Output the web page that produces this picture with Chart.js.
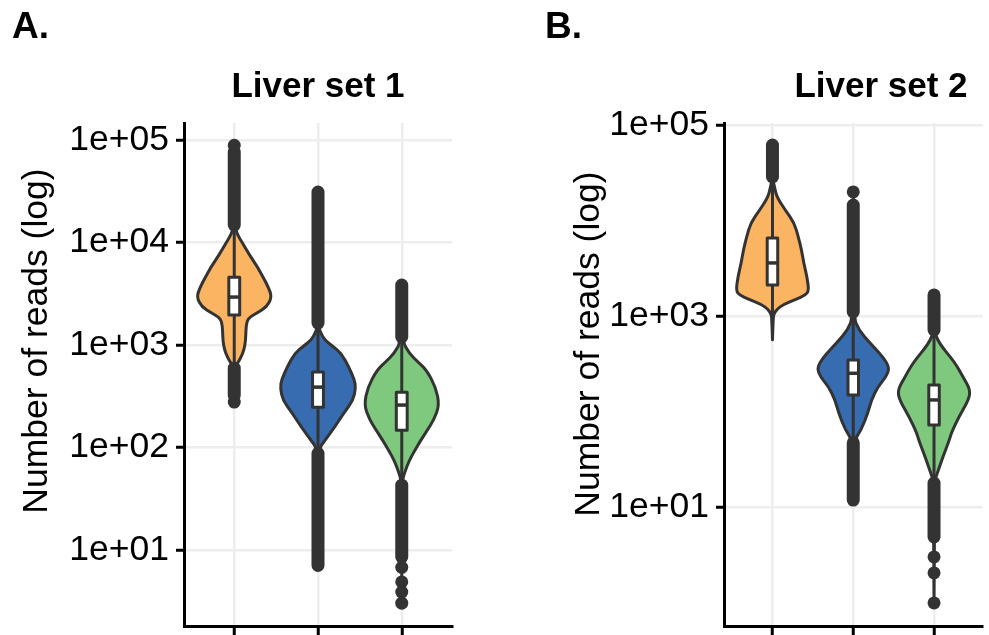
<!DOCTYPE html>
<html>
<head>
<meta charset="utf-8">
<script src="https://cdn.jsdelivr.net/npm/chart.js@4.4.1/dist/chart.umd.min.js"></script>
<style>
  html, body { margin: 0; padding: 0; background: #ffffff; }
  #wrap { position: relative; width: 989px; height: 635px; overflow: hidden; }
  canvas { position: absolute; top: 0; }
</style>
</head>
<body>
<div id="wrap">
  <canvas id="liver1" width="470" height="635" style="left:0px"></canvas>
  <canvas id="liver2" width="519" height="635" style="left:470px"></canvas>
</div>
<script>
// x labels are cropped off in the figure, so the groups only carry a colour
const groups = ['group 1', 'group 2', 'group 3'];
const groupColors = ['#fbb462', '#386cb0', '#7fc97f'];

const yTicks1 = [1e1, 1e2, 1e3, 1e4, 1e5];
const yTickLabels1 = ['1e+01', '1e+02', '1e+03', '1e+04', '1e+05'];
const yTicks2 = [1e1, 1e3, 1e5];
const yTickLabels2 = ['1e+01', '1e+03', '1e+05'];

// violin outlines: [reads, relative half width], read from top to bottom
const violins1 = [
  [[89000, 0], [14800, 0], [12000, 0.08], [9900, 0.22], [7800, 0.38], [5750, 0.62], [4500, 0.78],
   [3700, 0.9], [2950, 1.0], [2350, 0.86], [2050, 0.6], [1880, 0.42], [1700, 0.33], [1400, 0.31],
   [1100, 0.3], [900, 0.26], [760, 0.18], [660, 0.08], [600, 0], [278, 0]],
  [[31100, 0], [1570, 0], [1320, 0.07], [1120, 0.18], [980, 0.38], [830, 0.62], [610, 0.82],
   [457, 0.97], [380, 1.0], [288, 0.93], [219, 0.69], [158, 0.44], [117, 0.18], [95, 0], [7.1, 0]],
  [[3850, 0], [1120, 0], [830, 0.2], [690, 0.42], [570, 0.66], [389, 0.9], [260, 1.0], [186, 0.85],
   [148, 0.68], [117, 0.5], [93, 0.34], [75, 0.2], [59, 0.09], [46, 0], [3.04, 0]]
];
const violins2 = [
  [[61700, 0], [27900, 0], [22000, 0.06], [17600, 0.12], [12900, 0.35], [9400, 0.6], [6760, 0.71],
   [4900, 0.8], [3590, 0.86], [2570, 0.95], [1860, 1.0], [1660, 0.92], [1480, 0.62], [1320, 0.3],
   [1175, 0.12], [1050, 0.04], [950, 0.02], [562, 0]],
  [[19900, 0], [1000, 0], [713, 0.15], [521, 0.46], [372, 0.82], [285, 1.0], [229, 0.9], [182, 0.68],
   [132, 0.5], [96, 0.4], [64, 0.22], [48, 0], [11.8, 0]],
  [[1660, 0], [708, 0], [521, 0.13], [324, 0.58], [229, 0.8], [168, 1.0], [132, 0.95], [87, 0.68],
   [60, 0.48], [50, 0.42], [33, 0.24], [22.7, 0.09], [19, 0.02], [0.99, 0]]
];

// boxplots: [q1, median, q3] and whisker ends [low, high]
const boxes1 = [[1960, 2940, 4600], [248, 389, 546], [148, 260, 347]];
const whiskers1 = [[600, 14800], [95, 1570], [46, 1120]];
const boxes2 = [[2110, 3590, 6560], [149, 251, 346], [72, 132, 189]];
const whiskers2 = [[562, 27900], [48, 1000], [19, 708]];

// outliers: dense columns [from, to] and isolated points
const outlierRuns1 = [
  [[14800, 76400], [325, 597]],
  [[1640, 31100], [7.1, 88]],
  [[1200, 3850], [8.55, 43]]
];
const outlierPoints1 = [[89000, 278], [], [6.8, 4.9, 3.9, 3.04]];
const outlierRuns2 = [
  [[28500, 61700]],
  [[1100, 14500], [11.8, 47]],
  [[713, 1660], [4.85, 17.8]]
];
const outlierPoints2 = [[], [19900], [3.0, 2.04, 0.99]];

const ink = '#333333';
const halfWidth = 0.45;
const boxHalf = 0.065;
const dotRadius = 6.5;
const fontFamily = '"Liberation Sans", Arial, Helvetica, sans-serif';

// smooth a polyline with quadratic curves through the midpoints
function tracePath(ctx, pts) {
  ctx.moveTo(pts[0][0], pts[0][1]);
  for (let i = 1; i < pts.length - 1; i++) {
    const mx = (pts[i][0] + pts[i + 1][0]) / 2;
    const my = (pts[i][1] + pts[i + 1][1]) / 2;
    ctx.quadraticCurveTo(pts[i][0], pts[i][1], mx, my);
  }
  const last = pts[pts.length - 1];
  ctx.lineTo(last[0], last[1]);
}

function violinPlugin(violins, boxes, whiskers, runs) {
  return {
    id: 'violins',
    beforeDatasetsDraw(chart) {
      const ctx = chart.ctx;
      const xs = chart.scales.x;
      const ys = chart.scales.y;
      ctx.save();
      ctx.lineJoin = 'round';

      violins.forEach((profile, i) => {
        const pos = i + 1;
        const left = profile.map(p => [xs.getPixelForValue(pos - halfWidth * p[1]), ys.getPixelForValue(p[0])]);
        const right = profile.map(p => [xs.getPixelForValue(pos + halfWidth * p[1]), ys.getPixelForValue(p[0])]).reverse();
        ctx.beginPath();
        tracePath(ctx, left.concat(right));
        ctx.closePath();
        ctx.fillStyle = groupColors[i];
        ctx.fill();
        ctx.lineWidth = 3;
        ctx.strokeStyle = ink;
        ctx.stroke();
      });

      // whiskers + boxes
      boxes.forEach((b, i) => {
        const cx = xs.getPixelForValue(i + 1);
        ctx.lineWidth = 3;
        ctx.strokeStyle = ink;
        ctx.beginPath();
        ctx.moveTo(cx, ys.getPixelForValue(whiskers[i][0]));
        ctx.lineTo(cx, ys.getPixelForValue(whiskers[i][1]));
        ctx.stroke();

        const x0 = xs.getPixelForValue(i + 1 - boxHalf);
        const x1 = xs.getPixelForValue(i + 1 + boxHalf);
        const yTop = ys.getPixelForValue(b[2]);
        const yBot = ys.getPixelForValue(b[0]);
        ctx.fillStyle = '#ffffff';
        ctx.fillRect(x0, yTop, x1 - x0, yBot - yTop);
        ctx.strokeRect(x0, yTop, x1 - x0, yBot - yTop);
        const ym = ys.getPixelForValue(b[1]);
        ctx.lineWidth = 3.5;
        ctx.beginPath();
        ctx.moveTo(x0, ym);
        ctx.lineTo(x1, ym);
        ctx.stroke();
      });

      // dense outlier columns
      ctx.lineCap = 'round';
      ctx.lineWidth = dotRadius * 2;
      ctx.strokeStyle = ink;
      runs.forEach((list, i) => {
        const cx = xs.getPixelForValue(i + 1);
        list.forEach(r => {
          ctx.beginPath();
          ctx.moveTo(cx, ys.getPixelForValue(r[0]));
          ctx.lineTo(cx, ys.getPixelForValue(r[1]));
          ctx.stroke();
        });
      });
      ctx.restore();
    }
  };
}

function labelPlugin(letter, letterX, title, titleX, yTitleX, yTitleY) {
  return {
    id: 'panelText',
    afterDraw(chart) {
      const ctx = chart.ctx;
      ctx.save();
      ctx.fillStyle = '#000000';
      ctx.textBaseline = 'alphabetic';
      ctx.font = 'bold 37px ' + fontFamily;
      ctx.textAlign = 'left';
      ctx.fillText(letter, letterX, 38);
      ctx.font = 'bold 35px ' + fontFamily;
      ctx.textAlign = 'center';
      ctx.fillText(title, titleX, 97);
      ctx.font = '35.5px ' + fontFamily;
      ctx.textBaseline = 'middle';
      ctx.translate(yTitleX, yTitleY);
      ctx.rotate(-Math.PI / 2);
      ctx.fillText('Number of reads (log)', 0, 0);
      ctx.restore();
    }
  };
}

function makePanel(id, p) {
  const points = [];
  p.points.forEach((list, i) => list.forEach(v => points.push({ x: i + 1, y: v })));

  return new Chart(document.getElementById(id), {
    type: 'scatter',
    data: {
      datasets: [{
        label: 'outliers',
        data: points,
        pointRadius: dotRadius,
        pointHoverRadius: dotRadius,
        backgroundColor: ink,
        borderWidth: 0
      }]
    },
    options: {
      responsive: false,
      animation: false,
      devicePixelRatio: 1,
      layout: { padding: { left: 0, top: 123, right: p.padRight, bottom: 0 } },
      plugins: { legend: { display: false }, tooltip: { enabled: false } },
      scales: {
        x: {
          type: 'linear',
          min: 0.4,
          max: 3.6,
          afterBuildTicks: s => { s.ticks = groups.map((g, i) => ({ value: i + 1 })); },
          afterFit: s => { s.height = 9; s.paddingLeft = 0; s.paddingRight = 0; },
          ticks: { display: false },
          grid: { color: '#ededed', lineWidth: 2.5, tickColor: '#000000', tickLength: 9, tickWidth: 3 },
          border: { color: '#000000', width: 3 }
        },
        y: {
          type: 'logarithmic',
          min: p.yMin,
          max: p.yMax,
          afterBuildTicks: s => { s.ticks = p.ticks.map(v => ({ value: v })); },
          afterFit: s => { s.width = p.axisLeft; s.paddingTop = 0; s.paddingBottom = 0; },
          ticks: {
            color: '#000000',
            padding: 7,
            font: { family: fontFamily, size: 35.5 },
            callback: v => p.tickLabels[p.ticks.indexOf(v)]
          },
          grid: { color: '#ededed', lineWidth: 2.5, tickColor: '#000000', tickLength: 8, tickWidth: 3 },
          border: { color: '#000000', width: 3 }
        }
      }
    },
    plugins: [
      violinPlugin(p.violins, p.boxes, p.whiskers, p.runs),
      labelPlugin(p.letter, p.letterX, p.title, p.titleX, p.yTitleX, p.yTitleY)
    ]
  });
}

makePanel('liver1', {
  violins: violins1, boxes: boxes1, whiskers: whiskers1, runs: outlierRuns1, points: outlierPoints1,
  ticks: yTicks1, tickLabels: yTickLabels1, yMin: 1.82, yMax: 146600,
  axisLeft: 184, padRight: 18,
  letter: 'A.', letterX: 12, title: 'Liver set 1', titleX: 318, yTitleX: 37, yTitleY: 341
});

makePanel('liver2', {
  violins: violins2, boxes: boxes2, whiskers: whiskers2, runs: outlierRuns2, points: outlierPoints2,
  ticks: yTicks2, tickLabels: yTickLabels2, yMin: 0.567, yMax: 104800,
  axisLeft: 254, padRight: 0,
  letter: 'B.', letterX: 75, title: 'Liver set 2', titleX: 881 - 470, yTitleX: 589 - 470, yTitleY: 344
});
</script>
</body>
</html>
